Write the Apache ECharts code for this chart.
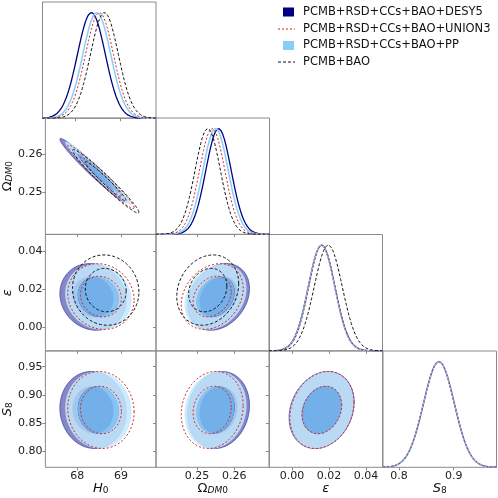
<!DOCTYPE html>
<html><head><meta charset="utf-8">
<script src="https://cdn.jsdelivr.net/npm/echarts@6/dist/echarts.min.js"></script>
<style>html,body{margin:0;padding:0;background:#fff}#c{width:498px;height:498px}</style>
</head><body><div id="c"></div>
<script>
// ---------------- data ----------------
const datasetNames = ['PCMB+RSD+CCs+BAO+DESY5', 'PCMB+RSD+CCs+BAO+UNION3', 'PCMB+RSD+CCs+BAO+PP', 'PCMB+BAO'];
// posterior means
const meanH0  = [68.36, 68.54, 68.48, 68.65];
const meanOm  = [0.2558, 0.2541, 0.2550, 0.2529];
const meanEps = [0.0160, 0.0162, 0.0160, 0.0196];
const meanS8  = [0.873, 0.873, 0.873, null];
// posterior standard deviations
const sigH0  = [0.31, 0.31, 0.31, 0.31];
const sigOm  = [0.0034, 0.0034, 0.0034, 0.0034];
const sigEps = [0.0072, 0.0071, 0.0071, 0.0076];
const sigS8  = [0.028, 0.028, 0.028, null];
// correlation coefficients
const rhoH0Om   = [-0.975, -0.975, -0.975, -0.975];
const rhoH0Eps  = [-0.10, -0.10, -0.10, -0.05];
const rhoOmEps  = [0.25, 0.25, 0.25, 0.18];
const rhoH0S8   = [-0.05, -0.05, -0.05, null];
const rhoOmS8   = [0.12, 0.12, 0.12, null];
const rhoEpsS8  = [0.20, 0.20, 0.20, null];
const contourLevels = [0.95, 0.68];
// axes
const paramRanges = [[67.27, 69.80], [0.239, 0.2695], [-0.0125, 0.049], [0.771, 0.978]];
const xTickVals   = [[68, 69], [0.25, 0.26], [0, 0.02, 0.04], [0.8, 0.9]];
const xTickLabels = [['68', '69'], ['0.25', '0.26'], ['0.00', '0.02', '0.04'], ['0.8', '0.9']];
const yTickVals   = [[], [0.25, 0.26], [0, 0.02, 0.04], [0.80, 0.85, 0.90, 0.95]];
const yTickLabels = [[], ['0.25', '0.26'], ['0.00', '0.02', '0.04'], ['0.80', '0.85', '0.90', '0.95']];
const paramNames  = ['{it|H}{sub|0}', '{up|Ω}{subi|DM}{sub|0}', '{it|ε}', '{it|S}{sub|8}'];

// ---------------- styles ----------------
const FONT = 'DejaVu Sans';
const styles = [
  {line: '#000080', dash: 'solid', lw: 1.3, fill: ['#8587c6', '#000080'], op: [1, 1], stroke: '#3a3da6', legend: '#000080'},
  {line: '#d42222', dash: [2, 2], lw: 1.0, fill: null, legend: '#d42222'},
  {line: '#87cefa', dash: 'solid', lw: 1.5, fill: ['#c3e7fd', '#87cefa'], op: [0.85, 0.85], stroke: null, legend: '#87cefa'},
  {line: '#111111', dash: [3, 2], lw: 1.0, fill: null, legend: '#111111'}
];
const drawOrder = [0, 2, 1, 3];
const colLeft = [42.5, 156, 269, 383];
const rowTop = [2, 118, 234.5, 351];
const cellW = 113.5, cellH = 116.3;

const means = [meanH0, meanOm, meanEps, meanS8];
const sigs = [sigH0, sigOm, sigEps, sigS8];
function rho(i, j, d) {
  const key = [Math.min(i, j), Math.max(i, j)].join('');
  const tbl = {'01': rhoH0Om, '02': rhoH0Eps, '12': rhoOmEps, '03': rhoH0S8, '13': rhoOmS8, '23': rhoEpsS8};
  return tbl[key][d];
}
function ellipse(mx, my, sx, sy, r0, level) {
  const r = Math.sqrt(-2 * Math.log(1 - level));
  const pts = [];
  const c = Math.sqrt(1 - r0 * r0);
  for (let k = 0; k <= 120; k++) {
    const t = 2 * Math.PI * k / 120, u = Math.cos(t), v = Math.sin(t);
    pts.push([mx + sx * r * u, my + sy * r * (r0 * u + c * v)]);
  }
  return pts;
}
function fmt(vals, labels) {
  return v => { const i = vals.findIndex(t => Math.abs(t - v) < 1e-9); return i >= 0 ? labels[i] : ''; };
}
const nameRich = {
  it: {fontStyle: 'italic', fontSize: 13, fontFamily: FONT, color: '#111'},
  up: {fontSize: 13, fontFamily: FONT, color: '#111'},
  sub: {fontSize: 9, fontFamily: FONT, color: '#111', verticalAlign: 'bottom', lineHeight: 12},
  subi: {fontSize: 9, fontStyle: 'italic', fontFamily: FONT, color: '#111', verticalAlign: 'bottom', lineHeight: 12}
};

const grids = [], xAxes = [], yAxes = [], series = [];
for (let r = 0; r < 4; r++) {
  for (let c = 0; c <= r; c++) {
    const gi = grids.length;
    grids.push({left: colLeft[c], top: rowTop[r], width: cellW, height: cellH, show: true,
      borderColor: '#8a8a8a', borderWidth: 1, backgroundColor: 'transparent'});
    xAxes.push({type: 'value', gridIndex: gi, min: paramRanges[c][0], max: paramRanges[c][1],
      axisLine: {show: false, onZero: false}, splitLine: {show: false},
      axisTick: {show: true, customValues: xTickVals[c], length: 3, lineStyle: {color: '#888'}},
      axisLabel: {show: r === 3, customValues: xTickVals[c], formatter: fmt(xTickVals[c], xTickLabels[c]),
        fontSize: 11, color: '#222', margin: 3, fontFamily: FONT},
      name: r === 3 ? paramNames[c] : '', nameLocation: 'middle', nameGap: 15,
      nameTextStyle: {rich: nameRich}});
    if (r === c) {
      yAxes.push({type: 'value', gridIndex: gi, min: 0, max: 1.1, axisLine: {show: false, onZero: false},
        splitLine: {show: false}, axisTick: {show: false}, axisLabel: {show: false}});
      for (const d of drawOrder) {
        const m = means[c][d], s = sigs[c][d];
        if (m === null) continue;
        const st = styles[d];
        const [a, b] = paramRanges[c];
        const pts = [];
        for (let k = 0; k <= 160; k++) {
          const x = a + (b - a) * k / 160;
          pts.push([x, Math.exp(-0.5 * Math.pow((x - m) / s, 2))]);
        }
        series.push({type: 'line', xAxisIndex: gi, yAxisIndex: gi, data: pts, showSymbol: false,
          silent: true, clip: true, z: 3,
          lineStyle: {color: st.line, width: st.lw, type: st.dash}});
      }
    } else {
      yAxes.push({type: 'value', gridIndex: gi, min: paramRanges[r][0], max: paramRanges[r][1],
        axisLine: {show: false, onZero: false}, splitLine: {show: false},
        axisTick: {show: true, customValues: yTickVals[r], length: 3, lineStyle: {color: '#888'}},
        axisLabel: {show: c === 0, customValues: yTickVals[r], formatter: fmt(yTickVals[r], yTickLabels[r]),
          fontSize: 11, color: '#222', margin: 3, fontFamily: FONT},
        name: c === 0 ? paramNames[r] : '', nameLocation: 'middle', nameRotate: 90, nameGap: 30,
        nameTextStyle: {rich: nameRich}});
      for (const d of drawOrder) {
        const mx = means[c][d], my = means[r][d];
        if (mx === null || my === null) continue;
        const sx = sigs[c][d], sy = sigs[r][d], rr = rho(c, r, d);
        const st = styles[d];
        series.push({type: 'custom', coordinateSystem: 'cartesian2d', xAxisIndex: gi, yAxisIndex: gi,
          clip: true, silent: true, z: 2, data: [[mx, my]],
          renderItem: (params, api) => {
            const rings = contourLevels.map(lv => ellipse(mx, my, sx, sy, rr, lv).map(p => api.coord(p)));
            const children = [];
            rings.forEach((poly, li) => {
              if (st.fill) {
                // outer level is a band (annulus) like a filled contour; inner level is the core
                const pts = li < rings.length - 1 ? poly.concat(rings[li + 1].slice().reverse()) : poly;
                children.push({type: 'polygon', shape: {points: pts},
                  style: {fill: st.fill[li], opacity: st.op[li], stroke: 'none'}});
                if (st.stroke) {
                  children.push({type: 'polygon', shape: {points: poly},
                    style: {fill: 'none', stroke: st.stroke, lineWidth: 0.7}});
                }
              } else {
                children.push({type: 'polygon', shape: {points: poly},
                  style: {fill: 'none', stroke: st.line, lineWidth: st.lw, lineDash: st.dash}});
              }
            });
            return {type: 'group', children};
          }});
      }
    }
  }
}

// legend drawn from dataset names and styles
const legendRows = [12, 29, 45.5, 62];
const graphics = [];
datasetNames.forEach((nm, d) => {
  const y = legendRows[d], st = styles[d];
  if (st.fill) {
    graphics.push({type: 'rect', shape: {x: 283, y: y - 4.5, width: 11, height: 9}, style: {fill: st.legend}});
  } else {
    graphics.push({type: 'line', shape: {x1: 278, y1: y, x2: 295, y2: y},
      style: {stroke: st.legend, lineWidth: 1, lineDash: st.dash}});
  }
  graphics.push({type: 'text', x: 303, y: y, style: {text: nm, fontSize: 11.5, fontFamily: FONT,
    fill: '#111', textVerticalAlign: 'middle', verticalAlign: 'middle'}});
});

const chart = echarts.init(document.getElementById('c'), null, {renderer: 'canvas'});
chart.setOption({animation: false, backgroundColor: '#fff', grid: grids, xAxis: xAxes, yAxis: yAxes,
  series: series, graphic: graphics});
</script></body></html>
